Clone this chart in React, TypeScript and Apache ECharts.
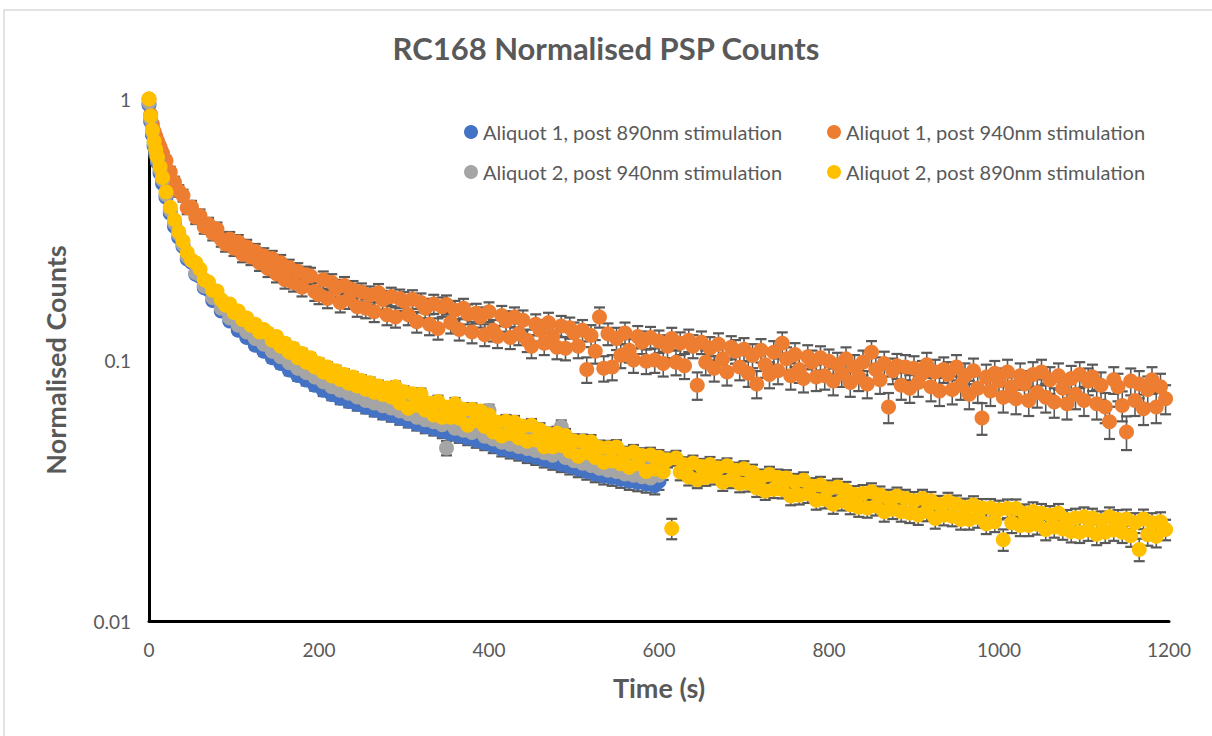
import React, { useEffect, useRef } from "react";
import * as echarts from "echarts";

// Time (s) sampling points
const timeLong = [
  0, 2, 4, 6, 8, 10, 13, 16, 20, 25, 30, 35,
  40, 45, 50, 55, 60, 65, 70, 75, 80, 85,
  90, 95, 100, 105, 110, 115, 120, 125, 130, 135,
  140, 145, 150, 155, 160, 165, 170, 175, 180, 185,
  190, 195, 200, 205, 210, 215, 220, 225, 230, 235,
  240, 245, 250, 255, 260, 265, 270, 275, 280, 285,
  290, 295, 300, 305, 310, 315, 320, 325, 330, 335,
  340, 345, 350, 355, 360, 365, 370, 375, 380, 385,
  390, 395, 400, 405, 410, 415, 420, 425, 430, 435,
  440, 445, 450, 455, 460, 465, 470, 475, 480, 485,
  490, 495, 500, 505, 510, 515, 520, 525, 530, 535,
  540, 545, 550, 555, 560, 565, 570, 575, 580, 585,
  590, 595, 600, 605, 610, 615, 620, 625, 630, 635,
  640, 645, 650, 655, 660, 665, 670, 675, 680, 685,
  690, 695, 700, 705, 710, 715, 720, 725, 730, 735,
  740, 745, 750, 755, 760, 765, 770, 775, 780, 785,
  790, 795, 800, 805, 810, 815, 820, 825, 830, 835,
  840, 845, 850, 855, 860, 865, 870, 875, 880, 885,
  890, 895, 900, 905, 910, 915, 920, 925, 930, 935,
  940, 945, 950, 955, 960, 965, 970, 975, 980, 985,
  990, 995, 1000, 1005, 1010, 1015, 1020, 1025, 1030, 1035,
  1040, 1045, 1050, 1055, 1060, 1065, 1070, 1075, 1080, 1085,
  1090, 1095, 1100, 1105, 1110, 1115, 1120, 1125, 1130, 1135,
  1140, 1145, 1150, 1155, 1160, 1165, 1170, 1175, 1180, 1185,
  1190, 1196,
];
const timeShort = timeLong.slice(0, 125); // 0 .. 600 s

// Aliquot 1, post 890nm stimulation (blue)
const a1_890 = [
  0.95, 0.82, 0.73, 0.66, 0.61, 0.57, 0.52, 0.475, 0.42, 0.365, 0.325, 0.295,
  0.272, 0.244, 0.237, 0.213, 0.209, 0.189, 0.186, 0.169, 0.169, 0.154,
  0.154, 0.141, 0.143, 0.13, 0.133, 0.122, 0.124, 0.114, 0.118, 0.108,
  0.112, 0.102, 0.106, 0.097, 0.1, 0.0915, 0.0952, 0.0872, 0.0905, 0.0838,
  0.0866, 0.0801, 0.083, 0.0765, 0.0795, 0.0738, 0.077, 0.0713, 0.0748, 0.0694,
  0.0726, 0.0675, 0.0708, 0.0659, 0.0691, 0.0642, 0.0674, 0.0626, 0.066, 0.0614,
  0.0644, 0.0598, 0.063, 0.0584, 0.0612, 0.0569, 0.0599, 0.0556, 0.0586, 0.0545,
  0.0573, 0.0533, 0.056, 0.0522, 0.0551, 0.0512, 0.0539, 0.0502, 0.0529, 0.0491,
  0.0516, 0.0481, 0.0507, 0.0469, 0.049, 0.0456, 0.0481, 0.0448, 0.0472, 0.044,
  0.0464, 0.0431, 0.0455, 0.0424, 0.0446, 0.0415, 0.0437, 0.0407, 0.0429, 0.0399,
  0.042, 0.0391, 0.0411, 0.0382, 0.0402, 0.0374, 0.0394, 0.0366, 0.0385, 0.0359,
  0.0381, 0.0355, 0.0377, 0.0349, 0.0367, 0.0343, 0.0363, 0.0339, 0.0359, 0.0335,
  0.0354, 0.033, 0.0343,
];

// Aliquot 1, post 940nm stimulation (orange)
const a1_940 = [
  1.0, 0.87, 0.8, 0.75, 0.72, 0.69, 0.655, 0.62, 0.58, 0.525, 0.48, 0.445,
  0.427, 0.383, 0.386, 0.352, 0.357, 0.324, 0.331, 0.306, 0.317, 0.29,
  0.278, 0.291, 0.268, 0.283, 0.254, 0.271, 0.248, 0.261, 0.236, 0.251,
  0.224, 0.245, 0.214, 0.236, 0.203, 0.226, 0.198, 0.219, 0.19, 0.212,
  0.21, 0.183, 0.178, 0.203, 0.172, 0.198, 0.188, 0.166, 0.193, 0.171,
  0.186, 0.16, 0.182, 0.158, 0.177, 0.153, 0.181, 0.17, 0.149, 0.175,
  0.146, 0.172, 0.168, 0.149, 0.171, 0.14, 0.166, 0.158, 0.137, 0.164,
  0.132, 0.16, 0.163, 0.139, 0.155, 0.131, 0.158, 0.15, 0.128, 0.151,
  0.146, 0.125, 0.153, 0.13, 0.123, 0.148, 0.141, 0.122, 0.146, 0.126,
  0.142, 0.119, 0.113, 0.137, 0.13, 0.116, 0.139, 0.123, 0.112, 0.135,
  0.111, 0.133, 0.127, 0.113, 0.13, 0.092, 0.124, 0.108, 0.146, 0.093,
  0.126, 0.094, 0.121, 0.104, 0.127, 0.109, 0.1, 0.123, 0.117, 0.099,
  0.122, 0.1, 0.118, 0.097, 0.113, 0.121, 0.098, 0.116, 0.095, 0.119,
  0.113, 0.08, 0.117, 0.098, 0.111, 0.093, 0.115, 0.101, 0.09, 0.112,
  0.108, 0.094, 0.11, 0.089, 0.104, 0.081, 0.109, 0.096, 0.088, 0.107,
  0.091, 0.116, 0.101, 0.087, 0.105, 0.092, 0.085, 0.103, 0.098, 0.086,
  0.102, 0.087, 0.099, 0.083, 0.096, 0.089, 0.101, 0.082, 0.094, 0.086,
  0.098, 0.081, 0.107, 0.092, 0.084, 0.097, 0.066, 0.091, 0.095, 0.08,
  0.094, 0.078, 0.093, 0.082, 0.089, 0.096, 0.079, 0.09, 0.076, 0.092,
  0.088, 0.077, 0.094, 0.08, 0.087, 0.074, 0.091, 0.078, 0.06, 0.086,
  0.076, 0.089, 0.083, 0.072, 0.09, 0.079, 0.071, 0.087, 0.081, 0.07,
  0.088, 0.075, 0.09, 0.072, 0.084, 0.069, 0.087, 0.078, 0.068, 0.085,
  0.074, 0.088, 0.07, 0.083, 0.086, 0.068, 0.08, 0.066, 0.058, 0.084,
  0.079, 0.067, 0.053, 0.083, 0.07, 0.081, 0.065, 0.077, 0.084, 0.066,
  0.079, 0.071,
];

// Aliquot 2, post 940nm stimulation (grey)
const a2_940 = [
  0.97, 0.84, 0.745, 0.675, 0.625, 0.585, 0.535, 0.49, 0.43, 0.375, 0.335, 0.303,
  0.277, 0.249, 0.24, 0.216, 0.212, 0.192, 0.19, 0.173, 0.173, 0.158,
  0.158, 0.145, 0.148, 0.136, 0.14, 0.128, 0.132, 0.121, 0.126, 0.115,
  0.119, 0.108, 0.113, 0.103, 0.108, 0.0975, 0.103, 0.093, 0.0985, 0.0895,
  0.095, 0.086, 0.0912, 0.0825, 0.0875, 0.079, 0.085, 0.0765, 0.0825, 0.0745,
  0.0805, 0.0722, 0.0785, 0.07, 0.0768, 0.0685, 0.0745, 0.0668, 0.073, 0.0655,
  0.0715, 0.0638, 0.07, 0.0622, 0.068, 0.0603, 0.0668, 0.059, 0.0652, 0.058,
  0.0638, 0.0565, 0.046, 0.0615, 0.0548, 0.0606, 0.0538, 0.0594, 0.0528, 0.0583,
  0.0574, 0.051, 0.064, 0.0498, 0.0546, 0.0484, 0.0535, 0.0476, 0.0525, 0.0466,
  0.0515, 0.0458, 0.0505, 0.045, 0.0496, 0.0441, 0.0486, 0.0432, 0.0476, 0.0555,
  0.0423, 0.0461, 0.0411, 0.0452, 0.0402, 0.0443, 0.0394, 0.0432, 0.0385, 0.0425,
  0.0378, 0.0419, 0.0374, 0.0412, 0.0366, 0.0405, 0.0362, 0.0399, 0.0357, 0.0393,
  0.0353, 0.0388, 0.0362,
];

// Aliquot 2, post 890nm stimulation (yellow)
const a2_890 = [
  1.0, 0.86, 0.76, 0.69, 0.64, 0.6, 0.55, 0.5, 0.44, 0.385, 0.345, 0.31,
  0.286, 0.258, 0.241, 0.236, 0.223, 0.203, 0.199, 0.185, 0.184, 0.17,
  0.162, 0.164, 0.152, 0.154, 0.143, 0.145, 0.136, 0.137, 0.128, 0.131,
  0.127, 0.119, 0.123, 0.113, 0.116, 0.107, 0.111, 0.102, 0.106, 0.098,
  0.102, 0.094, 0.097, 0.09, 0.094, 0.0868, 0.091, 0.0842, 0.088, 0.0815,
  0.086, 0.0795, 0.0835, 0.0772, 0.0818, 0.0752, 0.0795, 0.0738, 0.0781, 0.0722,
  0.0789, 0.0684, 0.0756, 0.0653, 0.0742, 0.0671, 0.074, 0.0643, 0.0683, 0.0616,
  0.0694, 0.0603, 0.0659, 0.0603, 0.068, 0.0598, 0.0648, 0.0562, 0.0647, 0.0586,
  0.0637, 0.0556, 0.0615, 0.053, 0.0577, 0.0511, 0.0583, 0.0523, 0.0578, 0.0503,
  0.0557, 0.0488, 0.0562, 0.0494, 0.0541, 0.0465, 0.052, 0.0465, 0.0524, 0.047,
  0.0514, 0.0447, 0.0489, 0.0428, 0.0488, 0.0441, 0.0486, 0.0423, 0.0462, 0.0406,
  0.0461, 0.041, 0.0464, 0.04, 0.0437, 0.0388, 0.0444, 0.04, 0.0431, 0.0374,
  0.0433, 0.0382, 0.0424, 0.0373, 0.0415, 0.0226, 0.0421, 0.0372, 0.0397, 0.0356,
  0.0403, 0.0348, 0.0391, 0.0355, 0.0398, 0.0359, 0.0386, 0.034, 0.0393, 0.0348,
  0.0378, 0.0336, 0.0383, 0.0338, 0.0371, 0.0323, 0.0355, 0.0315, 0.0364, 0.032,
  0.0355, 0.0319, 0.0353, 0.0301, 0.0341, 0.0303, 0.0346, 0.0307, 0.0328, 0.029,
  0.0332, 0.0293, 0.0321, 0.028, 0.0326, 0.0288, 0.0317, 0.0279, 0.0305, 0.0273,
  0.0308, 0.0271, 0.0313, 0.0276, 0.0304, 0.0262, 0.0295, 0.0268, 0.0301, 0.0262,
  0.0295, 0.0259, 0.0289, 0.0255, 0.0295, 0.0263, 0.0289, 0.0247, 0.0279, 0.0254,
  0.0287, 0.0252, 0.028, 0.0245, 0.0272, 0.0245, 0.0278, 0.0249, 0.0271, 0.0236,
  0.0271, 0.024, 0.0267, 0.0205, 0.027, 0.0238, 0.027, 0.0232, 0.0258, 0.0232,
  0.0263, 0.0235, 0.0259, 0.0224, 0.0254, 0.0229, 0.0259, 0.0225, 0.0245, 0.022,
  0.0248, 0.0219, 0.0251, 0.0223, 0.0248, 0.0215, 0.0242, 0.0219, 0.0251, 0.0223,
  0.0245, 0.0219, 0.0246, 0.0212, 0.0238, 0.0188, 0.0246, 0.0214, 0.0238, 0.0211,
  0.024, 0.0224,
];

// Counting (Poisson) error scale per series: error = k * sqrt(value)
const errScale = [0.0135, 0.034, 0.0135, 0.0135];

const seriesNames = [
  "Aliquot 1, post 890nm stimulation",
  "Aliquot 1, post 940nm stimulation",
  "Aliquot 2, post 940nm stimulation",
  "Aliquot 2, post 890nm stimulation",
];
const colors = ["#4472C4", "#ED7D31", "#A5A5A5", "#FFC000"];
const yTicks = [0.01, 0.1, 1];
const xTicks = [0, 200, 400, 600, 800, 1000, 1200];

const FONT = "Lato, 'Open Sans', sans-serif";
const TXT = "#595959";

export default function App() {
  const ref = useRef<HTMLDivElement>(null);

  useEffect(() => {
    if (!ref.current) return;
    const chart = echarts.init(ref.current, undefined, { renderer: "svg" });

    const sets = [
      { t: timeShort, v: a1_890 },
      { t: timeLong, v: a1_940 },
      { t: timeShort, v: a2_940 },
      { t: timeLong, v: a2_890 },
    ];

    const errSeries = sets.map((s, i) => ({
      type: "custom",
      name: "err" + i,
      z: 1,
      silent: true,
      encode: { x: 0, y: [1, 2] },
      data: s.v.map((v, j) => {
        const e = errScale[i] * Math.sqrt(v);
        return [s.t[j], v - e, v + e];
      }),
      renderItem: (params: any, api: any) => {
        const x = api.value(0);
        const pLo = api.coord([x, api.value(1)]);
        const pHi = api.coord([x, api.value(2)]);
        const cw = 5.5;
        const st = { stroke: "#595959", lineWidth: 1.6 };
        return {
          type: "group",
          children: [
            { type: "line", shape: { x1: pLo[0], y1: pLo[1], x2: pHi[0], y2: pHi[1] }, style: st },
            { type: "line", shape: { x1: pLo[0] - cw, y1: pLo[1], x2: pLo[0] + cw, y2: pLo[1] }, style: { ...st, lineWidth: 2.2 } },
            { type: "line", shape: { x1: pHi[0] - cw, y1: pHi[1], x2: pHi[0] + cw, y2: pHi[1] }, style: { ...st, lineWidth: 2.2 } },
          ],
        };
      },
    }));

    const scatterSeries = sets.map((s, i) => ({
      type: "scatter",
      name: seriesNames[i],
      z: 2 + i,
      symbol: "circle",
      symbolSize: 15,
      itemStyle: { color: colors[i], opacity: 1 },
      data: s.v.map((v, j) => [s.t[j], v]),
    }));

    const legendPos = [
      { left: 464, top: 122 },
      { left: 827, top: 122 },
      { left: 464, top: 162 },
      { left: 827, top: 162 },
    ];

    chart.setOption({
      animation: false,
      backgroundColor: "#ffffff",
      title: {
        text: "RC168 Normalised PSP Counts",
        left: "center",
        top: 27,
        textStyle: { fontFamily: FONT, fontSize: 31, fontWeight: "bold", color: TXT },
      },
      legend: legendPos.map((p, i) => ({
        data: [seriesNames[i]],
        left: p.left,
        top: p.top,
        icon: "circle",
        itemWidth: 14,
        itemHeight: 14,
        itemGap: 0,
        padding: 0,
        textStyle: { fontFamily: FONT, fontSize: 20, color: TXT },
      })),
      graphic: [
        {
          type: "rect",
          shape: { x: 4, y: 10, width: 1240, height: 760 },
          style: { fill: "none", stroke: "#d9d9d9", lineWidth: 1.5 },
          silent: true,
        },
      ],
      grid: { left: 149, right: 43, top: 99, bottom: 115 },
      xAxis: {
        type: "value",
        min: xTicks[0],
        max: xTicks[xTicks.length - 1],
        interval: 200,
        name: "Time (s)",
        nameLocation: "middle",
        nameGap: 53,
        nameTextStyle: { fontFamily: FONT, fontSize: 27, fontWeight: "bold", color: TXT },
        axisLine: { show: true, onZero: false, lineStyle: { color: "#000000", width: 3 } },
        axisTick: { show: false },
        splitLine: { show: false },
        axisLabel: {
          margin: 19,
          fontFamily: FONT,
          fontSize: 19,
          color: TXT,
          formatter: (v: number) => String(v),
        },
      },
      yAxis: {
        type: "log",
        logBase: 10,
        min: yTicks[0],
        max: yTicks[yTicks.length - 1],
        name: "Normalised Counts",
        nameLocation: "middle",
        nameGap: 80,
        nameTextStyle: { fontFamily: FONT, fontSize: 27, fontWeight: "bold", color: TXT },
        axisLine: { show: true, lineStyle: { color: "#000000", width: 3 } },
        axisTick: { show: false },
        splitLine: { show: false },
        axisLabel: {
          margin: 18,
          fontFamily: FONT,
          fontSize: 19,
          color: TXT,
          formatter: (v: number) => String(Number(v.toPrecision(3))),
        },
      },
      series: [...errSeries, ...scatterSeries],
    });

    return () => chart.dispose();
  }, []);

  return (
    <div
      ref={ref}
      style={{ position: "absolute", left: 0, top: 0, width: 1212, height: 736, background: "#fff" }}
    />
  );
}
